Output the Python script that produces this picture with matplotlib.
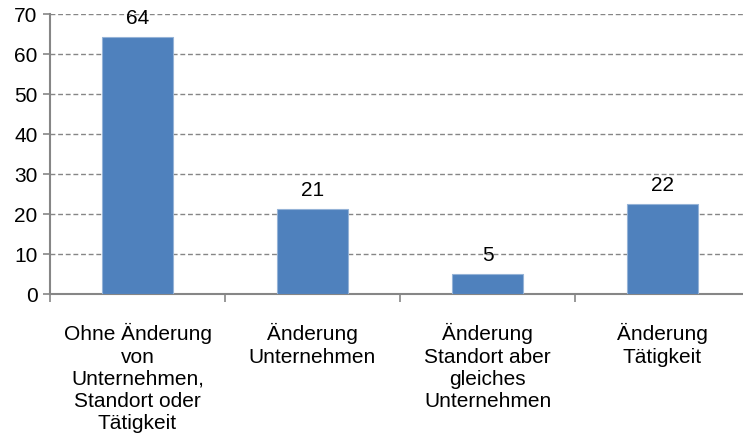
import matplotlib.pyplot as plt
import numpy as np

plt.rcParams['font.family'] = ['Liberation Sans', 'DejaVu Sans']

# Daten
kategorien = [
    "Ohne Änderung\nvon\nUnternehmen,\nStandort oder\nTätigkeit",
    "Änderung\nUnternehmen",
    "Änderung\nStandort aber\ngleiches\nUnternehmen",
    "Änderung\nTätigkeit",
]
werte = [64.2, 21.3, 5.1, 22.4]

W, H = 743, 442
fig = plt.figure(figsize=(W / 100, H / 100), dpi=100)
# Achse: links x=50, rechts x=750 (leicht abgeschnitten), oben y=14, unten y=294
ax = fig.add_axes([50 / W, 1 - 294 / H, 700 / W, 280 / H])

x = np.arange(len(werte)) + 0.5
ax.bar(x, werte, width=0.406, color='#4F81BD', edgecolor='#95B3D7',
       linewidth=0.8, zorder=3)

for xi, v in zip(x, werte):
    ax.annotate(f"{v:.0f}", (xi, v), xytext=(0, 6.5), textcoords='offset points',
                ha='center', va='bottom', fontsize=15, color='black')

ax.set_xlim(0, 4)
ax.set_ylim(0, 70)
ax.set_yticks(range(0, 71, 10))
ax.tick_params(axis='y', labelsize=15, length=5, width=1.2, color='#868686',
               pad=4)

# Kategorien-Beschriftung und Trennstriche
ax.set_xticks(np.arange(0, 5), minor=False)
ax.set_xticklabels([])
ax.tick_params(axis='x', which='major', length=6, width=1.2, color='#868686')
ax.set_xticks(x, minor=True)
ax.set_xticklabels(kategorien, minor=True, fontsize=15, linespacing=1.22)
ax.tick_params(axis='x', which='minor', length=0, pad=21)

ax.grid(axis='y', linestyle=(0, (3.5, 2)), color='#868686', linewidth=1,
        zorder=0)
for s in ['top', 'right']:
    ax.spines[s].set_visible(False)
for s in ['left', 'bottom']:
    ax.spines[s].set_color('#868686')
    ax.spines[s].set_linewidth(1.5)

fig.savefig('out.png', dpi=100)
